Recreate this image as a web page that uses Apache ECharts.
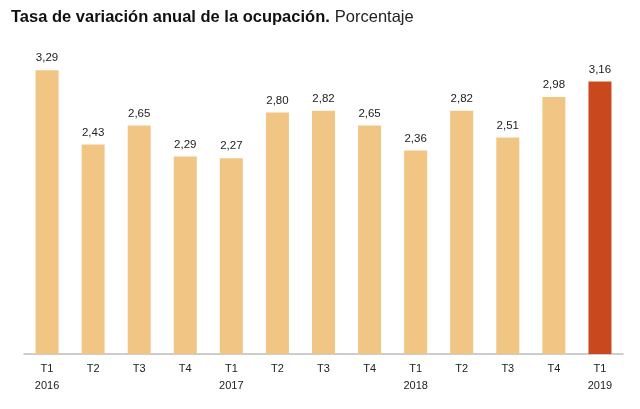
<!DOCTYPE html>
<html><head><meta charset="utf-8">
<script src="https://cdn.jsdelivr.net/npm/echarts@6/dist/echarts.min.js"></script>
<style>html,body{margin:0;padding:0;background:#fff}#c{width:640px;height:409px}</style>
</head><body><div id="c"></div>
<script>
const quarters = ['T1','T2','T3','T4','T1','T2','T3','T4','T1','T2','T3','T4','T1'];
const years = ['2016','','','','2017','','','','2018','','','','2019'];
const values = [3.29,2.43,2.65,2.29,2.27,2.80,2.82,2.65,2.36,2.82,2.51,2.98,3.16];
const highlightIndex = 12;
const categories = quarters.map((q,i)=> years[i] ? q + '\n' + years[i] : q);
const chart = echarts.init(document.getElementById('c'), null, {renderer:'canvas'});
chart.setOption({
  animation:false,
  title:{
    text:'{b|Tasa de variación anual de la ocupación.} {r|Porcentaje}',
    left:6, top:3,
    textStyle:{rich:{
      b:{fontFamily:'Liberation Sans, Arial, sans-serif',fontWeight:'bold',fontSize:16.5,color:'#111'},
      r:{fontFamily:'Liberation Sans, Arial, sans-serif',fontWeight:'normal',fontSize:16.5,color:'#222'}
    }}
  },
  grid:{left:24,right:17,top:9,bottom:55,containLabel:false},
  xAxis:{type:'category',data:categories,
    axisLine:{lineStyle:{color:'#bdbdbd',width:1.5}},
    axisTick:{show:false},
    axisLabel:{fontFamily:'Liberation Sans, Arial, sans-serif',fontSize:11,color:'#222',lineHeight:17,margin:6,interval:0}
  },
  yAxis:{type:'value',min:0,max:4,show:false,splitLine:{show:false}},
  series:[{type:'bar',barWidth:23,
    data:values.map((v,i)=>({value:v,itemStyle:{color:i===highlightIndex?'#C9481D':'#F1C584'}})),
    label:{show:true,position:'top',distance:6,fontFamily:'Liberation Sans, Arial, sans-serif',fontSize:11.5,color:'#222',
      formatter:p=>p.value.toFixed(2).replace('.',',')}
  }]
});
</script></body></html>
